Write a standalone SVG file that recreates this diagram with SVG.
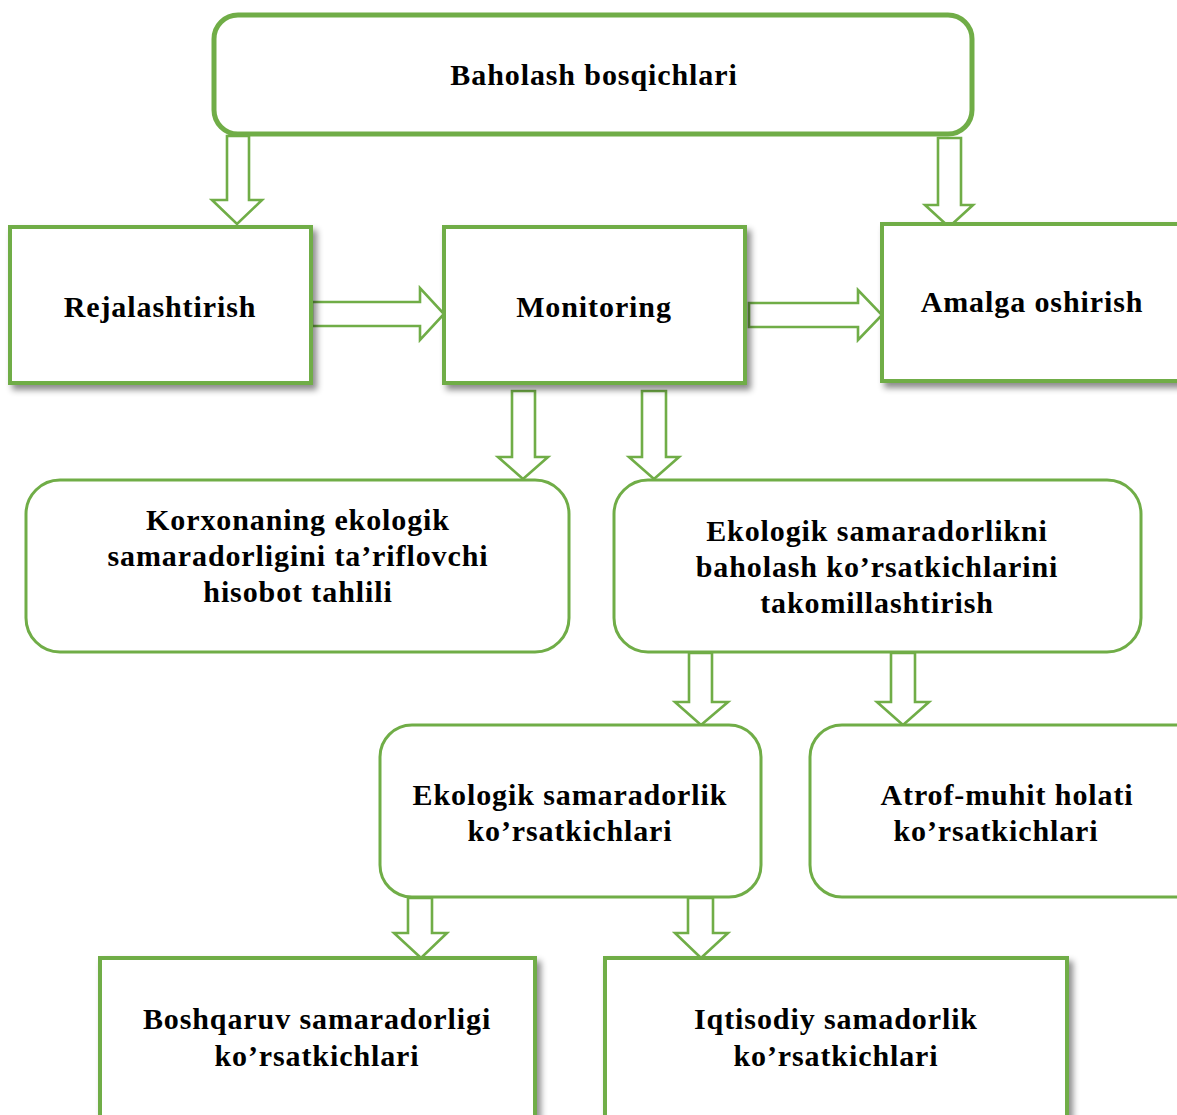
<svg xmlns="http://www.w3.org/2000/svg" width="1177" height="1115" viewBox="0 0 1177 1115">
<style>
.arr{fill:#fff;stroke:#70AD47;stroke-width:2.6;stroke-linejoin:miter}
.box{fill:#fff;stroke:#70AD47;stroke-width:4}
.rbox{fill:#fff;stroke:#70AD47;stroke-width:3}
.top{fill:#fff;stroke:#70AD47;stroke-width:5}
text{font-family:"Liberation Serif","Times New Roman",serif;font-weight:bold;font-size:30px;letter-spacing:0.9px;fill:#000;text-anchor:middle}
</style>
<defs>
<filter id="sh" x="-10%" y="-10%" width="130%" height="130%">
<feDropShadow dx="4" dy="5" stdDeviation="3" flood-color="#000" flood-opacity="0.45"/>
</filter>
</defs>
<g id="connectors">
<path class="arr" d="M227,136 L227,200 L212,200 L237,224 L262,200 L249,200 L249,136 Z"/>
<path class="arr" d="M938,138 L938,205 L925,205 L949,227 L973,205 L961,205 L961,138 Z"/>
<path class="arr" d="M312,302 L420,302 L420,288 L444,314 L420,340 L420,326 L312,326 Z"/>
<path class="arr" d="M749,303 L858,303 L858,290 L882,315 L858,340 L858,327 L749,327 Z"/>
<path class="arr" d="M512,391 L512,457 L498,457 L523,479 L548,457 L535,457 L535,391 Z"/>
<path class="arr" d="M642,391 L642,457 L629,457 L654,479 L679,457 L666,457 L666,391 Z"/>
<path class="arr" d="M689,653 L689,702 L675,702 L701,725 L728,702 L712,702 L712,653 Z"/>
<path class="arr" d="M891,653 L891,702 L877,702 L903,725 L929,702 L915,702 L915,653 Z"/>
<path class="arr" d="M408,898 L408,933 L394,933 L421,958 L447,933 L432,933 L432,898 Z"/>
<path class="arr" d="M688,898 L688,933 L675,933 L701,958 L728,933 L713,933 L713,898 Z"/>
</g>
<g id="n-baholash">
<rect class="top" x="214" y="15" width="758" height="119" rx="24"/>
<text x="594" y="85">Baholash bosqichlari</text>
</g>
<g id="n-rejalashtirish">
<rect class="box" x="10" y="227" width="301" height="156" filter="url(#sh)"/>
<text x="160" y="317">Rejalashtirish</text>
</g>
<g id="n-monitoring">
<rect class="box" x="444" y="227" width="301" height="156" filter="url(#sh)"/>
<text x="594" y="317">Monitoring</text>
</g>
<g id="n-amalga">
<rect class="box" x="882" y="224" width="310" height="157" filter="url(#sh)"/>
<text x="1032" y="312">Amalga oshirish</text>
</g>
<g id="n-korxonaning">
<rect class="rbox" x="26" y="480" width="543" height="172" rx="34"/>
<text x="298" y="530">Korxonaning ekologik</text>
<text x="298" y="566">samaradorligini ta’riflovchi</text>
<text x="298" y="602">hisobot tahlili</text>
</g>
<g id="n-takomillashtirish">
<rect class="rbox" x="614" y="480" width="527" height="172" rx="34"/>
<text x="877" y="541">Ekologik samaradorlikni</text>
<text x="877" y="577">baholash ko’rsatkichlarini</text>
<text x="877" y="613">takomillashtirish</text>
</g>
<g id="n-ekologik">
<rect class="rbox" x="380" y="725" width="381" height="172" rx="32"/>
<text x="570" y="805">Ekologik samaradorlik</text>
<text x="570" y="841">ko’rsatkichlari</text>
</g>
<g id="n-atrof">
<rect class="rbox" x="810" y="725" width="400" height="172" rx="32"/>
<text x="1007" y="805">Atrof-muhit holati</text>
<text x="996" y="841">ko’rsatkichlari</text>
</g>
<g id="n-boshqaruv">
<rect class="box" x="100" y="958" width="435" height="170" filter="url(#sh)"/>
<text x="317" y="1029">Boshqaruv samaradorligi</text>
<text x="317" y="1066">ko’rsatkichlari</text>
</g>
<g id="n-iqtisodiy">
<rect class="box" x="605" y="958" width="462" height="170" filter="url(#sh)"/>
<text x="836" y="1029">Iqtisodiy samadorlik</text>
<text x="836" y="1066">ko’rsatkichlari</text>
</g>
</svg>
